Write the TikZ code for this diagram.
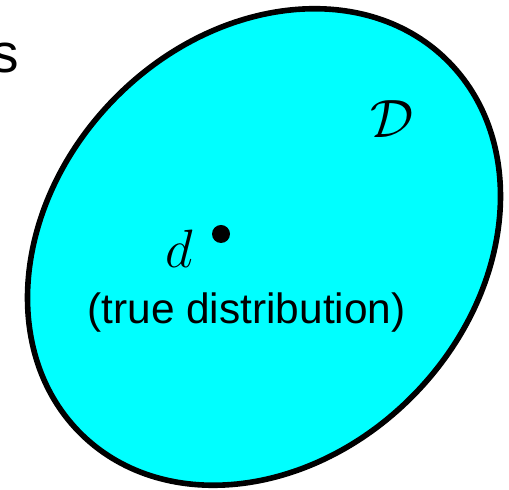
\RequirePackage{fix-cm}
\documentclass[tikz,border=0pt]{standalone}
\usepackage{fontspec}
\newfontfamily\arialfont{Liberation Sans}
\usetikzlibrary{shapes.geometric}
\definecolor{setfill}{RGB}{0,255,255}
\begin{document}
\begin{tikzpicture}[x=0.5pt, y=0.5pt,
    sanstext/.style={inner sep=0pt, font=\arialfont\fontsize{21.2}{25}\selectfont},
    mathtext/.style={inner sep=0pt, anchor=base west, font=\fontsize{27}{30}\selectfont}]
    \useasboundingbox (0,0) rectangle (509,490);
    \clip (0,0) rectangle (509,490);
    \node[ellipse, draw, line width=2.8pt, fill=setfill, inner sep=0pt,
        minimum width=261.5pt, minimum height=210.5pt, rotate=46] (set) at (264,243) {};
    \node[sanstext, anchor=base west, font=\arialfont\fontsize{27.5}{30}\selectfont] (word) at (-9,417) {s};
    \node[mathtext] (setname) at (370,352) {$\mathcal{D}$};
    \node[circle, fill=black, inner sep=0pt, minimum size=9pt] (pt) at (221,256) {};
    \node[mathtext] (ptname) at (165,222) {$d$};
    \node[sanstext, anchor=base] (ptnote) at (246.5,166) {(true distribution)};
\end{tikzpicture}
\end{document}
